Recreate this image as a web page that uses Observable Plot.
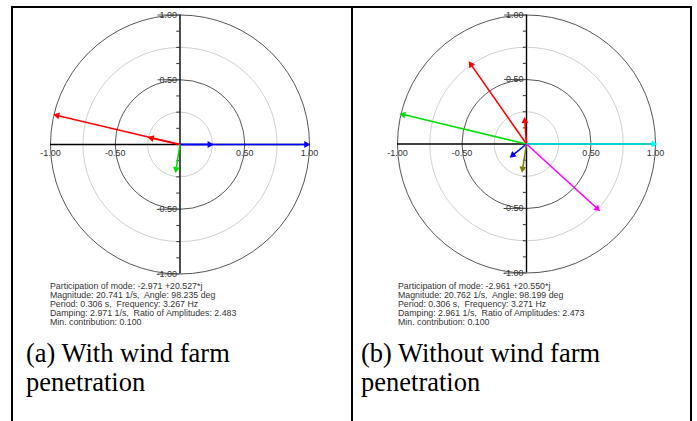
<!DOCTYPE html>
<html><head><meta charset="utf-8">
<script src="https://cdn.jsdelivr.net/npm/d3@7"></script>
<script src="https://cdn.jsdelivr.net/npm/@observablehq/plot@0.6"></script>
<style>
body{margin:0;background:#fff;}
#root{position:relative;width:697px;height:421px;overflow:hidden;background:#fff;}
.bar{position:absolute;background:#000;}
.panel{position:absolute;top:0;}
.info{position:absolute;font-family:"Liberation Sans",Arial,sans-serif;font-size:8.8px;line-height:9.2px;color:#333;white-space:pre;}
.cap{position:absolute;font-family:"Liberation Serif","Times New Roman",serif;font-size:26.5px;line-height:29px;color:#000;white-space:pre;}
</style></head><body><div id="root"></div>
<script>
// ---- data ----
const gridRadii = [0.25, 0.5, 0.75, 1];
const tickValues = [-1, -0.5, 0.5, 1];
const tickLabels = ["-1.00", "-0.50", "0.50", "1.00"];
const minorTicks = [-0.875, -0.75, -0.625, -0.375, -0.25, -0.125, 0.125, 0.25, 0.375, 0.625, 0.75, 0.875];

// (a) with wind farm penetration: vector components (real, imag) and colours
const aRe = [-0.948, -0.220, 0.975, 0.229, -0.030];
const aIm = [0.224, 0.049, 0, 0, -0.190];
const aColor = ["#ff0000", "#ff0000", "#0000ff", "#0000ff", "#00dd00"];

// (b) without wind farm penetration
const bRe = [-0.430, -0.013, -0.955, 0.985, -0.106, -0.030, 0.548];
const bIm = [0.615, 0.178, 0.228, 0, -0.086, -0.192, -0.500];
const bColor = ["#ff0000", "#ff0000", "#00e000", "#00ffff", "#0000ff", "#808000", "#ff00ff"];

const infoA = [
  "Participation of mode: -2.971 +20.527*j",
  "Magnitude: 20.741 1/s,  Angle: 98.235 deg",
  "Period: 0.306 s,  Frequency: 3.267 Hz",
  "Damping: 2.971 1/s,  Ratio of Amplitudes: 2.483",
  "Min. contribution: 0.100"
];
const infoB = [
  "Participation of mode: -2.961 +20.550*j",
  "Magnitude: 20.762 1/s,  Angle: 98.199 deg",
  "Period: 0.306 s,  Frequency: 3.271 Hz",
  "Damping: 2.961 1/s,  Ratio of Amplitudes: 2.473",
  "Min. contribution: 0.100"
];
const captionA = "(a) With wind farm\npenetration";
const captionB = "(b) Without wind farm\npenetration";

// ---- drawing ----
const root = document.getElementById("root");

function bar(l, t, w, h) {
  const d = document.createElement("div");
  d.className = "bar";
  Object.assign(d.style, {left: l + "px", top: t + "px", width: w + "px", height: h + "px"});
  root.appendChild(d);
}

function panel(re, im, colors, cx, cy, R, left, width, height) {
  const idx = d3.range(re.length);
  const chart = Plot.plot({
    width, height,
    margin: 0,
    style: {background: "transparent", overflow: "visible"},
    x: {domain: [-1, 1], range: [cx - R - left, cx + R - left], axis: null},
    y: {domain: [-1, 1], range: [cy + R, cy - R], axis: null},
    r: {type: "linear", domain: [0, 1], range: [0, R]},
    color: {type: "identity"},
    marks: [
      Plot.dot(gridRadii.filter(d => d === 0.25 || d === 0.75), {x: () => 0, y: () => 0, r: d => d, stroke: "#d0d0d0", fill: "none", strokeWidth: 1}),
      Plot.dot(gridRadii.filter(d => d === 0.5 || d === 1), {x: () => 0, y: () => 0, r: d => d, stroke: "#555", fill: "none", strokeWidth: 1}),
      Plot.ruleY([0], {x1: -1, x2: 1, stroke: "#000", strokeWidth: 1.4}),
      Plot.ruleX([0], {y1: -1, y2: 1, stroke: "#000", strokeWidth: 1.4}),
      Plot.ruleY(minorTicks, {y: d => d, x1: -0.025, x2: 0, stroke: "#333"}),
      Plot.ruleY(tickValues, {y: d => d, x1: -0.17, x2: 0, stroke: "#555"}),
      Plot.text(tickValues, {x: d => d, y: () => 0, text: (d, i) => tickLabels[i], dy: 9, fill: "#333", fontSize: 9, fontFamily: "Liberation Sans, Arial, sans-serif"}),
      Plot.text(tickValues, {x: () => 0, y: d => d, text: (d, i) => tickLabels[i], dx: -3, textAnchor: "end", fill: "#333", fontSize: 9, fontFamily: "Liberation Sans, Arial, sans-serif"}),
      Plot.link(idx, {x1: () => 0, y1: () => 0, x2: i => re[i], y2: i => im[i], stroke: i => colors[i], strokeWidth: 1.6}),
      Plot.dot(idx, {x: i => re[i], y: i => im[i], symbol: "triangle", r: 2.6, fill: i => colors[i], stroke: "none",
        rotate: i => 90 - Math.atan2(im[i], re[i]) * 180 / Math.PI})
    ]
  });
  chart.classList.add("panel");
  chart.style.left = left + "px";
  chart.style.position = "absolute";
  chart.style.top = "0px";
  root.appendChild(chart);
}

function textBlock(lines, cls, l, t) {
  const d = document.createElement("div");
  d.className = cls;
  d.style.left = l + "px";
  d.style.top = t + "px";
  d.textContent = Array.isArray(lines) ? lines.join("\n") : lines;
  root.appendChild(d);
}

panel(aRe, aIm, aColor, 179.5, 144, 129.5, 14, 336, 300);
panel(bRe, bIm, bColor, 526, 143.5, 129, 354, 335, 300);

textBlock(infoA, "info", 50, 281.5);
textBlock(infoB, "info", 398, 281.5);
textBlock(captionA, "cap", 26, 339);
textBlock(captionB, "cap", 361, 339);

// table frame
bar(11, 6, 681, 2);
bar(11, 6, 2, 415);
bar(351, 6, 2, 415);
bar(690, 6, 2, 415);
</script></body></html>
